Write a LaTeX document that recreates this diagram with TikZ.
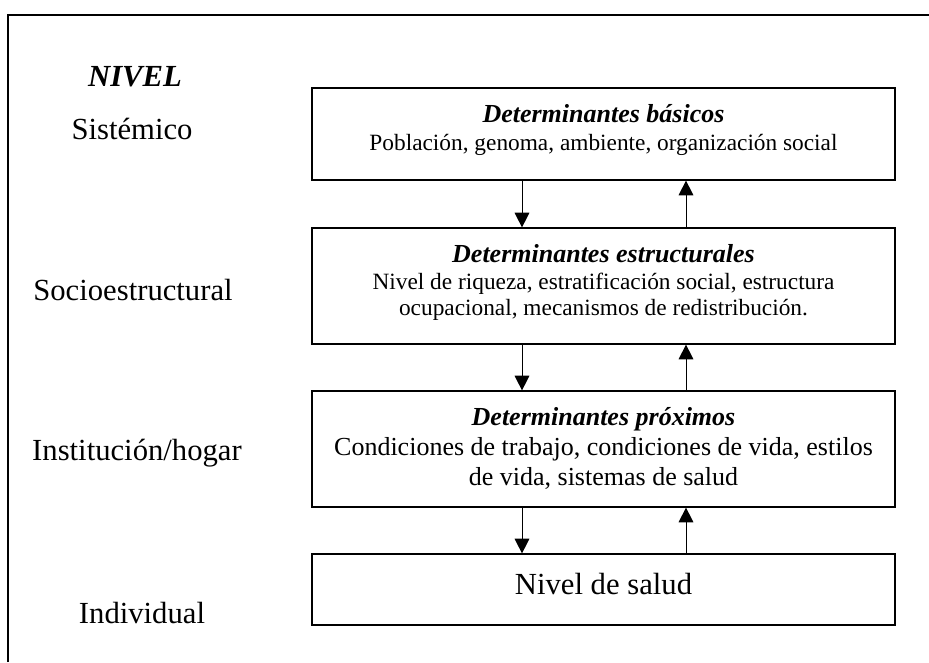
\documentclass[tikz,border=0pt]{standalone}
\usepackage{fontspec}
\setmainfont{Liberation Serif}
\usetikzlibrary{arrows.meta,calc}
\begin{document}
\begin{tikzpicture}[x=0.75pt,y=-0.75pt,
  box/.style={draw, line width=0.9pt, inner sep=0pt, minimum width=437.25pt},
  lvl/.style={anchor=base, font=\fontsize{23}{27}\selectfont},
  txt/.style={anchor=base, inner sep=0pt, font=\fontsize{17.5}{21}\selectfont},
  ttl/.style={anchor=base, inner sep=0pt, font=\fontsize{19.5}{23}\selectfont\bfseries\itshape},
  txtb/.style={anchor=base, inner sep=0pt, font=\fontsize{19.5}{23}\selectfont},
  arr/.style={line width=0.75pt, -{Triangle[width=11pt,length=11pt]}}]
\useasboundingbox (0,0) rectangle (929,662);
\fill[white] (0,0) rectangle (929,662);
% frame
\coordinate (fbl) at (8,662);
\coordinate (ftl) at (8,15);
\coordinate (ftr) at (929,15);
\draw[line width=1.2pt] (fbl) -- (ftl) -- (ftr);
% level labels
\node[lvl, font=\fontsize{23}{27}\selectfont\bfseries\itshape] (nivel) at (135,86) {NIVEL};
\node[lvl] (sist) at (132,139) {Sistémico};
\node[lvl] (socio) at (133,300) {Socioestructural};
\node[lvl] (inst) at (137,460) {Institución/hogar};
\node[lvl] (indiv) at (142,623) {Individual};
% boxes
\node[box, minimum height=69pt] (b1) at (603.5,134) {};
\node[box, minimum height=87pt] (b2) at (603.5,286) {};
\node[box, minimum height=87pt] (b3) at (603.5,449) {};
\node[box, minimum height=53.25pt] (b4) at (603.5,589.5) {};
% box texts
\node[ttl] (b1t) at (603.5,122) {Determinantes básicos};
\node[txt] (b1a) at (603.5,150) {Población, genoma, ambiente, organización social};
\node[ttl] (b2t) at (603.5,262) {Determinantes estructurales};
\node[txt] (b2a) at (603.5,289) {Nivel de riqueza, estratificación social, estructura};
\node[txt] (b2b) at (603.5,315) {ocupacional, mecanismos de redistribución.};
\node[ttl] (b3t) at (603.5,425) {Determinantes próximos};
\node[txtb] (b3a) at (603.5,455) {Condiciones de trabajo, condiciones de vida, estilos};
\node[txtb] (b3b) at (603.5,485) {de vida, sistemas de salud};
\node[anchor=base, inner sep=0pt, font=\fontsize{23}{27}\selectfont] (b4t) at (603.5,594) {Nivel de salud};
% arrows
\draw[arr] ($(b1.south)+(-81.5,0)$) -- ($(b2.north)+(-81.5,0)$);
\draw[arr] ($(b2.north)+(82.5,0)$) -- ($(b1.south)+(82.5,0)$);
\draw[arr] ($(b2.south)+(-81.5,0)$) -- ($(b3.north)+(-81.5,0)$);
\draw[arr] ($(b3.north)+(82.5,0)$) -- ($(b2.south)+(82.5,0)$);
\draw[arr] ($(b3.south)+(-81.5,0)$) -- ($(b4.north)+(-81.5,0)$);
\draw[arr] ($(b4.north)+(82.5,0)$) -- ($(b3.south)+(82.5,0)$);
\end{tikzpicture}
\end{document}
